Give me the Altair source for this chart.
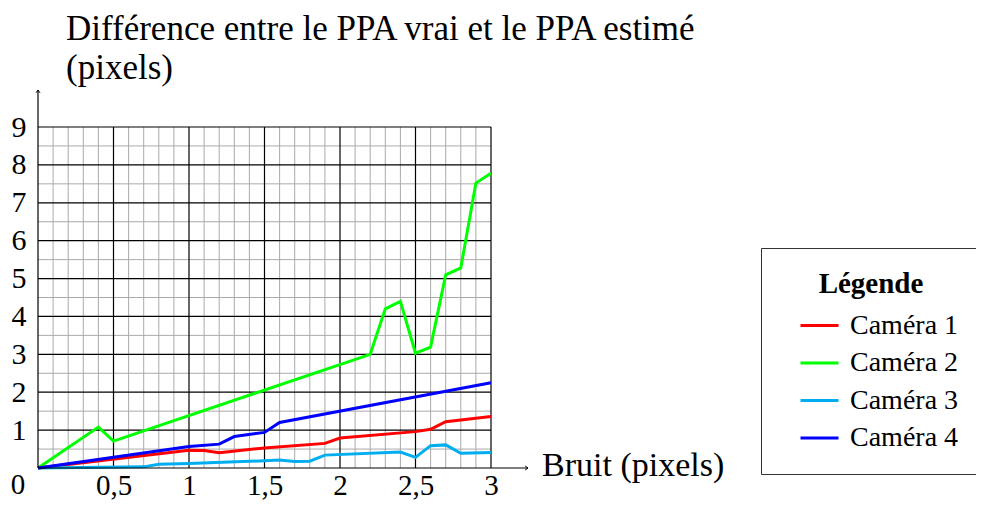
import altair as alt
import pandas as pd

# ---- data ----
cam1_x = [0, 1.0, 1.1, 1.2, 1.5, 1.9, 2.0, 2.5, 2.6, 2.7, 3.0]
cam1_y = [0, 0.47, 0.46, 0.40, 0.53, 0.65, 0.79, 0.96, 1.02, 1.22, 1.36]
cam2_x = [0, 0.4, 0.5, 2.2, 2.3, 2.4, 2.5, 2.6, 2.7, 2.8, 2.9, 3.0]
cam2_y = [0, 1.08, 0.71, 3.0, 4.2, 4.4, 3.03, 3.19, 5.1, 5.28, 7.52, 7.78]
cam3_x = [0, 0.7, 0.8, 1.0, 1.5, 1.6, 1.7, 1.8, 1.9, 2.4, 2.5, 2.6, 2.7, 2.8, 3.0]
cam3_y = [0, 0.03, 0.10, 0.12, 0.19, 0.21, 0.17, 0.18, 0.34, 0.42, 0.28, 0.59, 0.61, 0.39, 0.41]
cam4_x = [0, 1.0, 1.2, 1.3, 1.5, 1.6, 3.0]
cam4_y = [0, 0.57, 0.63, 0.83, 0.94, 1.2, 2.25]

series = ["Caméra 1", "Caméra 2", "Caméra 3", "Caméra 4"]
colors = ["#ff0000", "#00ff00", "#00aeef", "#0000ff"]

x_minor = [0.1, 0.2, 0.3, 0.4, 0.6, 0.7, 0.8, 0.9, 1.1, 1.2, 1.3, 1.4, 1.6, 1.7, 1.8, 1.9,
           2.1, 2.2, 2.3, 2.4, 2.6, 2.7, 2.8, 2.9]
x_major = [0.5, 1.0, 1.5, 2.0, 2.5, 3.0]
y_minor = [0.5, 1.5, 2.5, 3.5, 4.5, 5.5, 6.5, 7.5, 8.5]
y_major = [1, 2, 3, 4, 5, 6, 7, 8, 9]
x_ticks = [0.5, 1, 1.5, 2, 2.5, 3]
y_ticks = [1, 2, 3, 4, 5, 6, 7, 8, 9]

title_lines = ["Différence entre le PPA vrai et le PPA estimé", "(pixels)"]
x_title = "Bruit (pixels)"
legend_title = "Légende"

rows = []
for name, xs, ys in zip(series, [cam1_x, cam2_x, cam3_x, cam4_x], [cam1_y, cam2_y, cam3_y, cam4_y]):
    for i, (a, b) in enumerate(zip(xs, ys)):
        rows.append({"serie": name, "bruit": a, "diff": b, "ordre": i})
df = pd.DataFrame(rows)

FONT = "Liberation Serif"
W, H = 453, 341

xscale = alt.Scale(domain=[0, 3], nice=False, zero=True)
yscale = alt.Scale(domain=[0, 9], nice=False, zero=True)

x_axis = alt.Axis(values=x_ticks, labelExpr="replace(format(datum.value, '~g'), '.', ',')", grid=False,
                  domain=False, ticks=False, labelFont=FONT, labelFontSize=29,
                  labelColor="black", labelPadding=17, labelBaseline="middle",
                  title=None, labelFlush=False)
y_axis = alt.Axis(values=y_ticks, grid=False, domain=False, ticks=False, labelFont=FONT,
                  labelFontSize=30, labelColor="black", labelPadding=12, title=None,
                  labelBaseline="middle", labelFlush=False)

# grid
g_xminor = alt.Chart(pd.DataFrame({"v": x_minor})).mark_rule(color="#aaaaaa", strokeWidth=1).encode(
    x=alt.X("v:Q", scale=xscale, axis=x_axis))
g_yminor = alt.Chart(pd.DataFrame({"v": y_minor})).mark_rule(color="#aaaaaa", strokeWidth=1).encode(
    y=alt.Y("v:Q", scale=yscale, axis=y_axis))
g_xmajor = alt.Chart(pd.DataFrame({"v": x_major})).mark_rule(color="#000000", strokeWidth=1.2).encode(
    x=alt.X("v:Q", scale=xscale, axis=x_axis))
g_ymajor = alt.Chart(pd.DataFrame({"v": y_major})).mark_rule(color="#000000", strokeWidth=1.2).encode(
    y=alt.Y("v:Q", scale=yscale, axis=y_axis))

# lines
lines = alt.Chart(df).mark_line(strokeWidth=3, strokeJoin="miter").encode(
    x=alt.X("bruit:Q", scale=xscale, axis=x_axis),
    y=alt.Y("diff:Q", scale=yscale, axis=y_axis),
    color=alt.Color("serie:N", scale=alt.Scale(domain=series, range=colors),
                    legend=alt.Legend(title=legend_title, orient="none", legendX=723, legendY=121,
                                      symbolType="stroke", symbolStrokeWidth=3, symbolSize=1444,
                                      symbolOffset=16, labelOffset=10, padding=22,
                                      strokeColor="#333333", fillColor="white",
                                      labelFont=FONT, labelFontSize=28, labelColor="black",
                                      titleFont=FONT, titleFontSize=29, titleFontWeight="bold",
                                      titleColor="black", titleAnchor="middle", titlePadding=6,
                                      rowPadding=2.5)),
    order="ordre:Q",
)

# axes with arrows
one = pd.DataFrame({"k": [0]})
yaxis = alt.Chart(one).mark_rule(color="black", strokeWidth=1.2).encode(
    x=alt.value(0), y=alt.value(H), y2=alt.value(-37))
xaxis = alt.Chart(one).mark_rule(color="black", strokeWidth=1.2).encode(
    y=alt.value(H), x=alt.value(0), x2=alt.value(W + 37))
arrow_up = alt.Chart(one).mark_point(shape="M-1,1.4L0,0L1,1.4", filled=False, color="black",
                                     strokeWidth=1, size=16, opacity=1).encode(
    x=alt.value(0), y=alt.value(-37))
arrow_right = alt.Chart(one).mark_point(shape="M-1.4,-1L0,0L-1.4,1", filled=False, color="black",
                                        strokeWidth=1, size=16, opacity=1).encode(
    x=alt.value(W + 37), y=alt.value(H))

# texts
title_txt = alt.Chart(one).mark_text(font=FONT, fontSize=35, align="left", baseline="alphabetic",
                                     lineHeight=39, color="black").encode(
    x=alt.value(28), y=alt.value(-87), text=alt.value(title_lines))
xtitle_txt = alt.Chart(one).mark_text(font=FONT, fontSize=34, align="left", baseline="middle",
                                      color="black").encode(
    x=alt.value(W + 51), y=alt.value(H - 2), text=alt.value(x_title))
zero_txt = alt.Chart(one).mark_text(font=FONT, fontSize=29, align="center", baseline="middle",
                                    color="black").encode(
    x=alt.value(-20), y=alt.value(H + 17), text=alt.value("0"))

chart = alt.layer(
    g_xminor, g_yminor, g_xmajor, g_ymajor, lines, yaxis, xaxis, arrow_up, arrow_right,
    title_txt, xtitle_txt, zero_txt
).properties(
    width=W, height=H,
    autosize=alt.AutoSizeParams(type="none"),
    padding={"left": 30, "top": 119, "right": 485, "bottom": 32},
    background="white",
).configure_view(stroke=None)

chart.save("out.html", embed_options={"renderer": "svg", "actions": False})
